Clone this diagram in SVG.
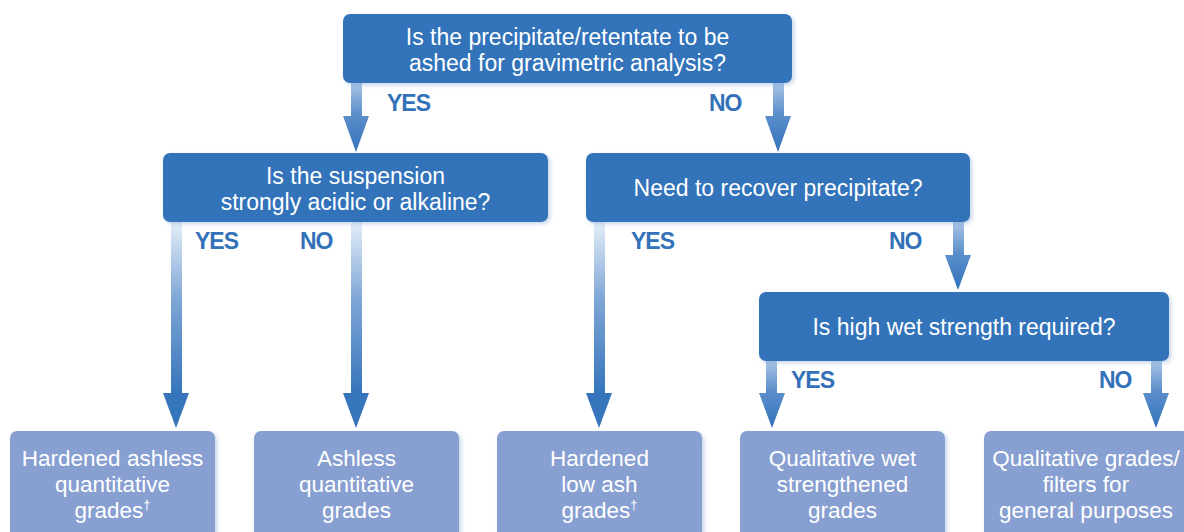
<svg xmlns="http://www.w3.org/2000/svg" width="1184" height="532" viewBox="0 0 1184 532">
<defs>
<style>
.q{fill:#3373ba;filter:url(#sh)}
.r{fill:#889fd1;filter:url(#sh)}
.t{font-family:"Liberation Sans",Arial,sans-serif;font-size:23px;fill:#ffffff;text-anchor:middle}
.b{font-family:"Liberation Sans",Arial,sans-serif;font-size:22.5px;fill:#ffffff;text-anchor:middle}
.l{font-family:"Liberation Sans",Arial,sans-serif;font-size:23px;font-weight:bold;fill:#3371b8;letter-spacing:-1px}
.sup{font-size:13px}
.head{fill:#3674bb}
</style>
<filter id="sh" x="-5%" y="-10%" width="110%" height="130%">
<feDropShadow dx="2" dy="2" stdDeviation="2" flood-color="#7fa2d0" flood-opacity="0.45"/>
</filter>
<linearGradient id="gl" x1="0" y1="0" x2="0" y2="1">
<stop offset="0" stop-color="#e4eef8"/>
<stop offset="0.45" stop-color="#7ea6d6"/>
<stop offset="1" stop-color="#3574bb"/>
</linearGradient>
<linearGradient id="gs" x1="0" y1="0" x2="0" y2="1">
<stop offset="0" stop-color="#a9c5e6"/>
<stop offset="1" stop-color="#5389c7"/>
</linearGradient>
<linearGradient id="gh" x1="0" y1="0" x2="0" y2="1">
<stop offset="0" stop-color="#5a8ecb"/>
<stop offset="1" stop-color="#3272ba"/>
</linearGradient>
</defs>

<g id="connectors">
<rect x="351" y="83" width="11" height="34" fill="url(#gs)"/>
<polygon points="343,116 369,116 356,152" fill="url(#gh)"/>
<rect x="773" y="83" width="11" height="34" fill="url(#gs)"/>
<polygon points="765,116 791,116 778,152" fill="url(#gh)"/>
<rect x="171" y="222" width="11" height="172" fill="url(#gl)"/>
<polygon points="163,393 189,393 176,428" class="head"/>
<rect x="351" y="222" width="11" height="172" fill="url(#gl)"/>
<polygon points="343,393 369,393 356,428" class="head"/>
<rect x="594" y="222" width="11" height="172" fill="url(#gl)"/>
<polygon points="586,393 612,393 599,428" class="head"/>
<rect x="953" y="222" width="11" height="34" fill="url(#gs)"/>
<polygon points="945,255 971,255 958,290" fill="url(#gh)"/>
<rect x="766" y="361" width="11" height="33" fill="url(#gs)"/>
<polygon points="759,393 785,393 772,428" fill="url(#gh)"/>
<rect x="1151" y="361" width="11" height="33" fill="url(#gs)"/>
<polygon points="1143,393 1169,393 1156,428" fill="url(#gh)"/>
<text class="l" x="387" y="111">YES</text>
<text class="l" x="709" y="111">NO</text>
<text class="l" x="195" y="249">YES</text>
<text class="l" x="300" y="249">NO</text>
<text class="l" x="631" y="249">YES</text>
<text class="l" x="889" y="249">NO</text>
<text class="l" x="791" y="388">YES</text>
<text class="l" x="1099" y="388">NO</text>
</g>

<g id="q1">
<rect class="q" x="343" y="14" width="449" height="69" rx="7"/>
<text class="t" x="567.5" y="45">Is the precipitate/retentate to be</text>
<text class="t" x="567.5" y="71">ashed for gravimetric analysis?</text>
</g>
<g id="q2">
<rect class="q" x="163" y="153" width="385" height="69" rx="7"/>
<text class="t" x="355.5" y="184">Is the suspension</text>
<text class="t" x="355.5" y="210">strongly acidic or alkaline?</text>
</g>
<g id="q3">
<rect class="q" x="586" y="153" width="384" height="69" rx="7"/>
<text class="t" x="778" y="196">Need to recover precipitate?</text>
</g>
<g id="q4">
<rect class="q" x="759" y="292" width="410" height="69" rx="7"/>
<text class="t" x="964" y="335">Is high wet strength required?</text>
</g>

<g id="r1">
<rect class="r" x="10" y="431" width="205" height="110" rx="7"/>
<text class="b" x="112.5" y="466">Hardened ashless</text>
<text class="b" x="112.5" y="492">quantitative</text>
<text class="b" x="112.5" y="518">grades<tspan class="sup" dy="-9">†</tspan></text>
</g>
<g id="r2">
<rect class="r" x="254" y="431" width="205" height="110" rx="7"/>
<text class="b" x="356.5" y="466">Ashless</text>
<text class="b" x="356.5" y="492">quantitative</text>
<text class="b" x="356.5" y="518">grades</text>
</g>
<g id="r3">
<rect class="r" x="497" y="431" width="205" height="110" rx="7"/>
<text class="b" x="599.5" y="466">Hardened</text>
<text class="b" x="599.5" y="492">low ash</text>
<text class="b" x="599.5" y="518">grades<tspan class="sup" dy="-9">†</tspan></text>
</g>
<g id="r4">
<rect class="r" x="740" y="431" width="205" height="110" rx="7"/>
<text class="b" x="842.5" y="466">Qualitative wet</text>
<text class="b" x="842.5" y="492">strengthened</text>
<text class="b" x="842.5" y="518">grades</text>
</g>
<g id="r5">
<rect class="r" x="984" y="431" width="205" height="110" rx="7"/>
<text class="b" x="1086" y="466">Qualitative grades/</text>
<text class="b" x="1086" y="492">filters for</text>
<text class="b" x="1086" y="518">general purposes</text>
</g>
</svg>
